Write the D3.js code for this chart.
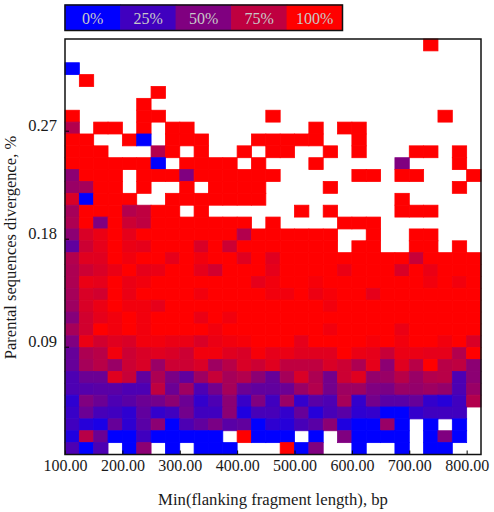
<!DOCTYPE html>
<html>
<head>
<meta charset="utf-8">
<script src="https://cdn.jsdelivr.net/npm/d3@7"></script>
<style>
  html, body { margin: 0; padding: 0; background: #fff; }
  text { font-family: "Liberation Serif", serif; fill: #1a1a1a; }
</style>
</head>
<body>
<div id="chart"></div>
<script>
const legendLabels = [0, 25, 50, 75, 100];
const xTicks = [100, 200, 300, 400, 500, 600, 700, 800];
const yTicks = [0.09, 0.18, 0.27];
const xBinStart = 100, xBinSize = 25;

// share of the max, % per cell. rows go top to bottom, null = no data (white)
const _ = null;
const rows = [
  [_,_,_,_,_,_,_,_,_,_,_,_,_,_,_,_,_,_,_,_,_,_,_,_,_,100,_,_,_],
  [_,_,_,_,_,_,_,_,_,_,_,_,_,_,_,_,_,_,_,_,_,_,_,_,_,_,_,_,_],
  [0,_,_,_,_,_,_,_,_,_,_,_,_,_,_,_,_,_,_,_,_,_,_,_,_,_,_,_,_],
  [_,100,_,_,_,_,_,_,_,_,_,_,_,_,_,_,_,_,_,_,_,_,_,_,_,_,_,_,_],
  [_,_,_,_,_,_,100,_,_,_,_,_,_,_,_,_,_,_,_,_,_,_,_,_,_,_,_,_,_],
  [_,_,_,_,_,100,_,_,_,_,_,_,_,_,_,_,_,_,_,_,_,_,_,_,_,_,_,_,_],
  [100,_,_,_,_,100,100,_,_,_,_,_,_,_,100,_,_,_,_,_,_,_,_,_,_,_,100,_,_],
  [70,_,100,100,_,100,_,100,100,_,_,_,_,_,_,_,_,100,_,100,100,_,_,_,_,_,_,_,_],
  [100,100,_,_,100,0,_,100,100,100,_,_,_,100,100,100,100,100,_,_,100,_,_,_,_,_,_,_,_],
  [100,100,100,_,_,_,70,100,_,100,_,_,100,_,100,100,_,_,100,_,100,_,_,_,100,100,_,100,_],
  [100,100,100,100,100,100,0,_,100,100,100,100,_,100,_,_,_,100,_,_,_,_,_,50,_,_,_,100,_],
  [55,100,100,100,_,100,100,100,50,100,100,100,100,100,100,_,_,_,_,_,100,100,_,100,100,_,_,_,100],
  [60,65,100,100,_,100,_,_,100,_,100,100,100,100,_,_,_,_,100,_,_,_,_,_,_,_,_,100,_],
  [85,0,100,100,100,_,_,100,100,100,100,100,100,100,_,_,_,_,_,_,_,_,_,100,_,_,_,_,_],
  [65,100,100,100,70,75,100,100,_,100,_,_,_,_,_,_,100,_,100,_,_,_,_,100,100,100,_,_,_],
  [68,100,50,100,80,75,100,100,100,100,100,100,100,_,100,_,_,_,_,100,100,100,_,_,_,_,_,_,_],
  [55,85,92,100,90,100,100,100,100,100,100,100,70,100,100,100,100,100,100,_,_,100,_,_,100,100,_,_,_],
  [38,80,90,100,92,90,100,100,100,85,100,80,100,100,100,100,100,100,100,_,100,100,_,_,100,100,_,100,_],
  [70,88,88,100,95,100,100,90,100,95,100,100,88,100,88,100,100,100,100,100,100,100,100,100,78,100,100,100,100],
  [68,80,85,92,100,90,92,100,100,90,82,100,100,100,90,100,100,100,100,92,100,100,100,85,100,92,100,100,100],
  [68,92,90,100,92,95,100,100,100,100,100,100,100,90,95,100,100,97,100,100,100,100,100,100,100,95,100,95,100],
  [65,85,82,100,92,100,100,100,100,95,100,100,100,100,95,95,100,93,97,100,100,90,100,100,100,100,100,100,100],
  [62,85,92,100,95,95,90,100,100,100,100,100,100,100,100,100,100,100,95,100,100,100,100,100,100,100,100,100,100],
  [52,82,90,95,100,95,100,100,100,92,100,95,100,100,100,100,100,100,100,100,100,100,100,100,100,100,100,100,100],
  [65,82,100,95,100,95,100,100,100,100,95,100,100,100,100,100,100,100,95,100,100,100,100,92,100,100,100,100,100],
  [50,92,82,88,85,95,95,92,92,85,92,95,97,100,100,100,90,100,100,100,100,97,100,95,100,100,95,100,85],
  [40,68,72,95,80,85,88,85,80,95,95,88,85,97,90,92,88,88,88,100,92,90,78,92,92,90,90,70,100],
  [40,65,72,60,80,85,60,80,80,85,62,72,85,80,88,75,75,75,85,80,68,90,55,88,72,100,72,75,55],
  [30,42,42,88,78,38,68,48,38,62,78,65,70,55,40,65,85,68,45,80,88,58,60,72,60,70,72,30,55],
  [30,33,35,35,30,30,75,42,62,30,45,65,42,38,38,42,60,70,45,62,62,50,48,60,58,62,58,30,60],
  [18,50,42,30,35,42,45,55,42,20,30,55,22,50,25,60,20,35,30,65,20,45,35,35,40,20,15,25,70],
  [22,42,28,25,18,38,20,25,45,25,25,55,12,28,28,20,40,15,28,35,18,20,0,0,20,25,25,25,_],
  [25,15,10,40,18,35,55,0,30,38,48,35,38,0,18,15,28,35,55,12,0,0,60,0,_,0,_,0,_],
  [12,72,42,0,0,25,0,0,0,0,0,_,100,0,0,0,_,0,_,50,0,0,0,0,_,0,50,0,_],
  [30,0,30,_,0,55,_,0,_,0,0,0,_,_,_,100,0,50,_,_,0,_,_,0,_,0,0,_,_]
];

const width = 494, height = 512;
const plot = {left: 65, right: 481, top: 39, bottom: 454.5};
const legendBox = {left: 65, top: 5, width: 277.5, height: 25.5};

const svg = d3.select("#chart").append("svg")
  .attr("width", width)
  .attr("height", height)
  .style("display", "block");

const xScale = d3.scaleLinear()
  .domain([xBinStart, xBinStart + xBinSize * rows[0].length])
  .range([plot.left, plot.right]);
const yBand = d3.scaleBand()
  .domain(d3.range(rows.length))
  .range([plot.top, plot.bottom]);
const yScale = d3.scaleLinear()
  .domain([0, 0.09])
  .range([plot.bottom + 0.2, plot.bottom + 0.2 - 108]);
const colour = d3.scaleLinear()
  .domain([0, 100])
  .range(["#0000ff", "#ff0000"]);

// heat cells
rows.forEach((row, r) => {
  svg.append("g").selectAll("rect")
    .data(row.map((v, c) => ({v, c})).filter(d => d.v !== null))
    .join("rect")
    .attr("x", d => xScale(xBinStart + d.c * xBinSize))
    .attr("y", yBand(r))
    .attr("width", xScale(xBinStart + xBinSize) - xScale(xBinStart))
    .attr("height", yBand.bandwidth())
    .attr("fill", d => colour(d.v))
    .attr("stroke", d => colour(d.v))
    .attr("stroke-width", 0.8);
});

// axes, ticks point inwards
const xAxis = d3.axisBottom(xScale)
  .tickValues(xTicks)
  .tickFormat(d3.format(".2f"))
  .tickSizeInner(-4)
  .tickSizeOuter(0)
  .tickPadding(5.5);
const xAxisGroup = svg.append("g")
  .attr("transform", `translate(0,${plot.bottom})`)
  .call(xAxis);
xAxisGroup.select(".domain").remove();
xAxisGroup.selectAll("text").style("font-size", "16px");

const yAxis = d3.axisLeft(yScale)
  .tickValues(yTicks)
  .tickFormat(d3.format(".2f"))
  .tickSizeInner(-4)
  .tickSizeOuter(0)
  .tickPadding(8);
const yAxisGroup = svg.append("g")
  .attr("transform", `translate(${plot.left},0)`)
  .call(yAxis);
yAxisGroup.select(".domain").remove();
yAxisGroup.selectAll("text")
  .attr("dy", 0)
  .style("font-size", "16.5px");

svg.append("rect")
  .attr("x", plot.left)
  .attr("y", plot.top)
  .attr("width", plot.right - plot.left)
  .attr("height", plot.bottom - plot.top)
  .attr("fill", "none")
  .attr("stroke", "#111")
  .attr("stroke-width", 1.5);

svg.append("text")
  .attr("x", 273)
  .attr("y", 505)
  .attr("text-anchor", "middle")
  .style("font-size", "16.7px")
  .text("Min(flanking fragment length), bp");

svg.append("text")
  .attr("transform", "translate(15.5,247.5) rotate(-90)")
  .attr("text-anchor", "middle")
  .style("font-size", "16.5px")
  .text("Parental sequences divergence, %");

// legend strip
const legendX = d3.scaleBand()
  .domain(legendLabels)
  .range([legendBox.left, legendBox.left + legendBox.width]);
const legend = svg.append("g");
legend.selectAll("rect")
  .data(legendLabels)
  .join("rect")
  .attr("x", d => legendX(d))
  .attr("y", legendBox.top)
  .attr("width", legendX.bandwidth())
  .attr("height", legendBox.height)
  .attr("fill", d => colour(d))
  .attr("stroke", d => colour(d))
  .attr("stroke-width", 0.8);
legend.selectAll("text")
  .data(legendLabels)
  .join("text")
  .attr("x", d => legendX(d) + legendX.bandwidth() / 2)
  .attr("y", legendBox.top + 18.5)
  .attr("text-anchor", "middle")
  .style("font-size", "16px")
  .style("fill", "#c8c8c8")
  .text(d => d + "%");
legend.append("rect")
  .attr("x", legendBox.left)
  .attr("y", legendBox.top)
  .attr("width", legendBox.width)
  .attr("height", legendBox.height)
  .attr("fill", "none")
  .attr("stroke", "#111")
  .attr("stroke-width", 1.5);
</script>
</body>
</html>
